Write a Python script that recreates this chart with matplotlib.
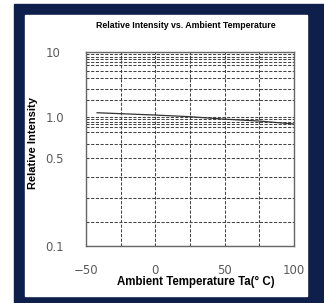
import numpy as np
import matplotlib.pyplot as plt
from matplotlib.patches import Rectangle

# data
temps = [-42, 0, 25, 50, 75, 100]
rel_intensity = [1.15, 1.06, 1.00, 0.96, 0.93, 0.885]

x_ticks = [-50, 0, 50, 100]
x_grid = [-25, 25, 75]
y_ticks = [0.1, 0.5, 1.0, 10]
y_tick_labels = ["0.1", "0.5", "1.0", "10"]
y_grid = [9.1, 8.4, 7.6, 6.9, 6.2, 5.1, 4.0, 2.67, 1.8,
          0.96, 0.92, 0.886, 0.846, 0.771, 0.635, 0.356, 0.242, 0.154]

# the printed axis is not a clean log scale: decades have different heights
knot_vals = np.log10([0.1, 0.5, 1.0, 10])
knot_pos = [0, 87.4, 129, 194]


def fwd(y):
    y = np.maximum(np.asarray(y, dtype=float), 1e-6)
    return np.interp(np.log10(y), knot_vals, knot_pos)


def inv(p):
    return 10 ** np.interp(p, knot_pos, knot_vals)


navy = "#0d1f4a"
W, H = 324, 303
fig = plt.figure(figsize=(W / 100, H / 100), dpi=100)
fig.patch.set_facecolor("white")
fig.patches.append(Rectangle((14 / W, 0), (W - 14) / W, (H - 4) / H,
                             transform=fig.transFigure, color=navy, zorder=-2))
fig.patches.append(Rectangle((25 / W, (H - 296) / H), (307 - 25) / W, (296 - 15) / H,
                             transform=fig.transFigure, color="white", zorder=-1))

ax = fig.add_axes([86 / W, (H - 245.7) / H, 208 / W, 194 / H])
ax.set_yscale("function", functions=(fwd, inv))
ax.plot(temps, rel_intensity, color="#333333", lw=0.9)

ax.set_xlim(-50, 100)
ax.set_ylim(0.1, 10)
ax.set_xticks(x_ticks)
ax.set_xticks(x_grid, minor=True)
ax.set_yticks(y_ticks)
ax.set_yticklabels(y_tick_labels)
ax.set_yticks(y_grid, minor=True)
ax.yaxis.set_minor_formatter(plt.NullFormatter())

ax.grid(which="both", color="#444444", linestyle=(0, (3, 1.5)), linewidth=0.75)
ax.tick_params(which="both", length=0, labelsize=8.5, labelcolor="#5a5a5a")
ax.tick_params(axis="x", pad=13)
ax.tick_params(axis="y", pad=29)
for lab in ax.get_yticklabels():
    lab.set_horizontalalignment("left")
for sp in ax.spines.values():
    sp.set_color("#666666")
    sp.set_linewidth(1.0)

fig.text(186 / W, (H - 26) / H, "Relative Intensity vs. Ambient Temperature",
         ha="center", va="center", fontsize=6.3, fontweight="bold",
         family="Liberation Sans")
fig.text(196 / W, (H - 282) / H, "Ambient Temperature Ta(° C)",
         ha="center", va="center", fontsize=8.3, fontweight="bold",
         family="Liberation Sans")
fig.text(33 / W, (H - 143) / H, "Relative Intensity", rotation=90,
         ha="center", va="center", fontsize=8, fontweight="bold",
         family="Liberation Sans")

fig.savefig("out.png", dpi=100)
